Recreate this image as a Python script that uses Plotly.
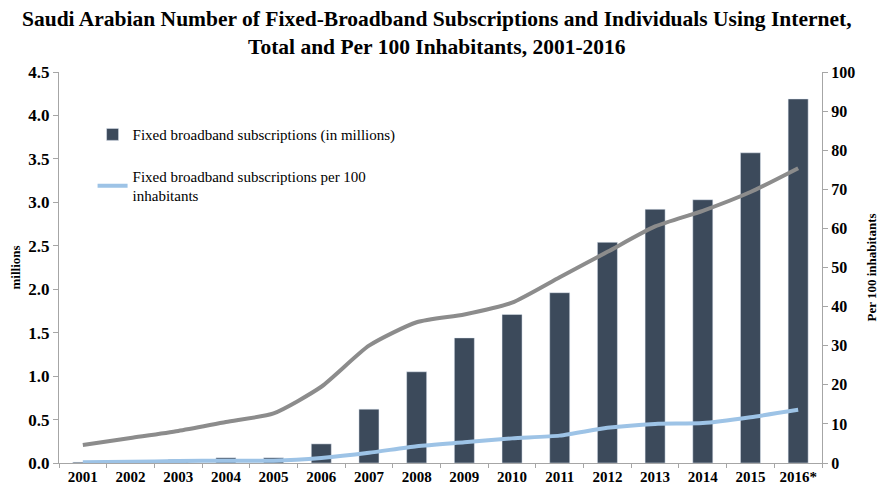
import plotly.graph_objects as go

years = ['2001', '2002', '2003', '2004', '2005', '2006', '2007', '2008',
         '2009', '2010', '2011', '2012', '2013', '2014', '2015', '2016*']
subs_millions = [0.01, 0.005, 0.04, 0.06, 0.06, 0.22, 0.62, 1.05,
                 1.44, 1.71, 1.96, 2.54, 2.92, 3.03, 3.57, 4.19]
subs_per100 = [0.2, 0.3, 0.5, 0.6, 0.6, 1.3, 2.6, 4.3,
               5.3, 6.3, 7.0, 9.0, 10.0, 10.2, 11.7, 13.6]
internet_per100 = [4.6, 6.4, 8.2, 10.5, 12.7, 19.5, 30.0, 36.0,
                   38.0, 41.0, 47.5, 54.0, 60.5, 64.5, 69.3, 75.4]

FONT = 'Liberation Serif, Times New Roman, serif'
AXIS_GREY = '#A6A6A6'

fig = go.Figure()

fig.add_trace(go.Bar(
    x=years, y=subs_millions,
    name='Fixed broadband subscriptions (in millions)',
    marker=dict(color='#3C4A5B'),
    width=0.42, legendgroup='a',
))

fig.add_trace(go.Scatter(
    x=years, y=internet_per100,
    mode='lines', yaxis='y2', showlegend=False,
    line=dict(color='#8C8C8C', width=4, shape='spline', smoothing=0.6),
    name='Individuals using the Internet per 100 inhabitants',
))

fig.add_trace(go.Scatter(
    x=years, y=subs_per100,
    mode='lines', yaxis='y2', legendgroup='b',
    line=dict(color='#9DC3E6', width=4, shape='spline', smoothing=0.6),
    name='Fixed broadband subscriptions per 100<br>inhabitants',
))

# page body adds an 8px offset at top/left, so the figure is sized to end at the window edge
fig.update_layout(
    width=878, height=477,
    margin=dict(l=51, r=64, t=64, b=22),
    paper_bgcolor='white', plot_bgcolor='white',
    font=dict(family=FONT, color='black'),
    annotations=[dict(
        text='<b>Saudi Arabian Number of Fixed-Broadband Subscriptions and Individuals Using Internet,<br>Total and Per 100 Inhabitants, 2001-2016</b>',
        xref='paper', yref='paper', x=0.495, y=1, xanchor='center', yanchor='bottom',
        yshift=11, showarrow=False, align='center',
        font=dict(size=21.5, family=FONT),
    )],
    xaxis=dict(
        showline=True, linecolor=AXIS_GREY, linewidth=1,
        ticks='outside', tickcolor=AXIS_GREY, ticklen=4,
        tickson='boundaries', automargin=False,
        tickfont=dict(size=15, family=FONT, weight='bold'),
        showgrid=False,
    ),
    yaxis=dict(
        range=[0, 4.5], dtick=0.5, tickformat='.1f',
        showline=True, linecolor=AXIS_GREY, linewidth=1,
        ticks='outside', tickcolor=AXIS_GREY, ticklen=5,
        tickfont=dict(size=17, family=FONT, weight='bold'),
        showgrid=False, zeroline=False, automargin=False,
        title=dict(text='<b>millions</b>', font=dict(size=13, family=FONT), standoff=8),
    ),
    yaxis2=dict(
        range=[0, 100], dtick=10, overlaying='y', side='right',
        showline=True, linecolor=AXIS_GREY, linewidth=1,
        ticks='outside', tickcolor=AXIS_GREY, ticklen=5,
        tickfont=dict(size=16, family=FONT, weight='bold'),
        showgrid=False, zeroline=False, automargin=False,
        title=dict(text='<b>Per 100 inhabitants</b>', font=dict(size=13, family=FONT), standoff=12),
    ),
    legend=dict(
        x=0.044, y=0.882, xanchor='left', yanchor='top',
        bgcolor='rgba(0,0,0,0)',
        font=dict(size=15, family=FONT),
        tracegroupgap=19, itemwidth=30,
    ),
)

fig.write_html("out.html")
